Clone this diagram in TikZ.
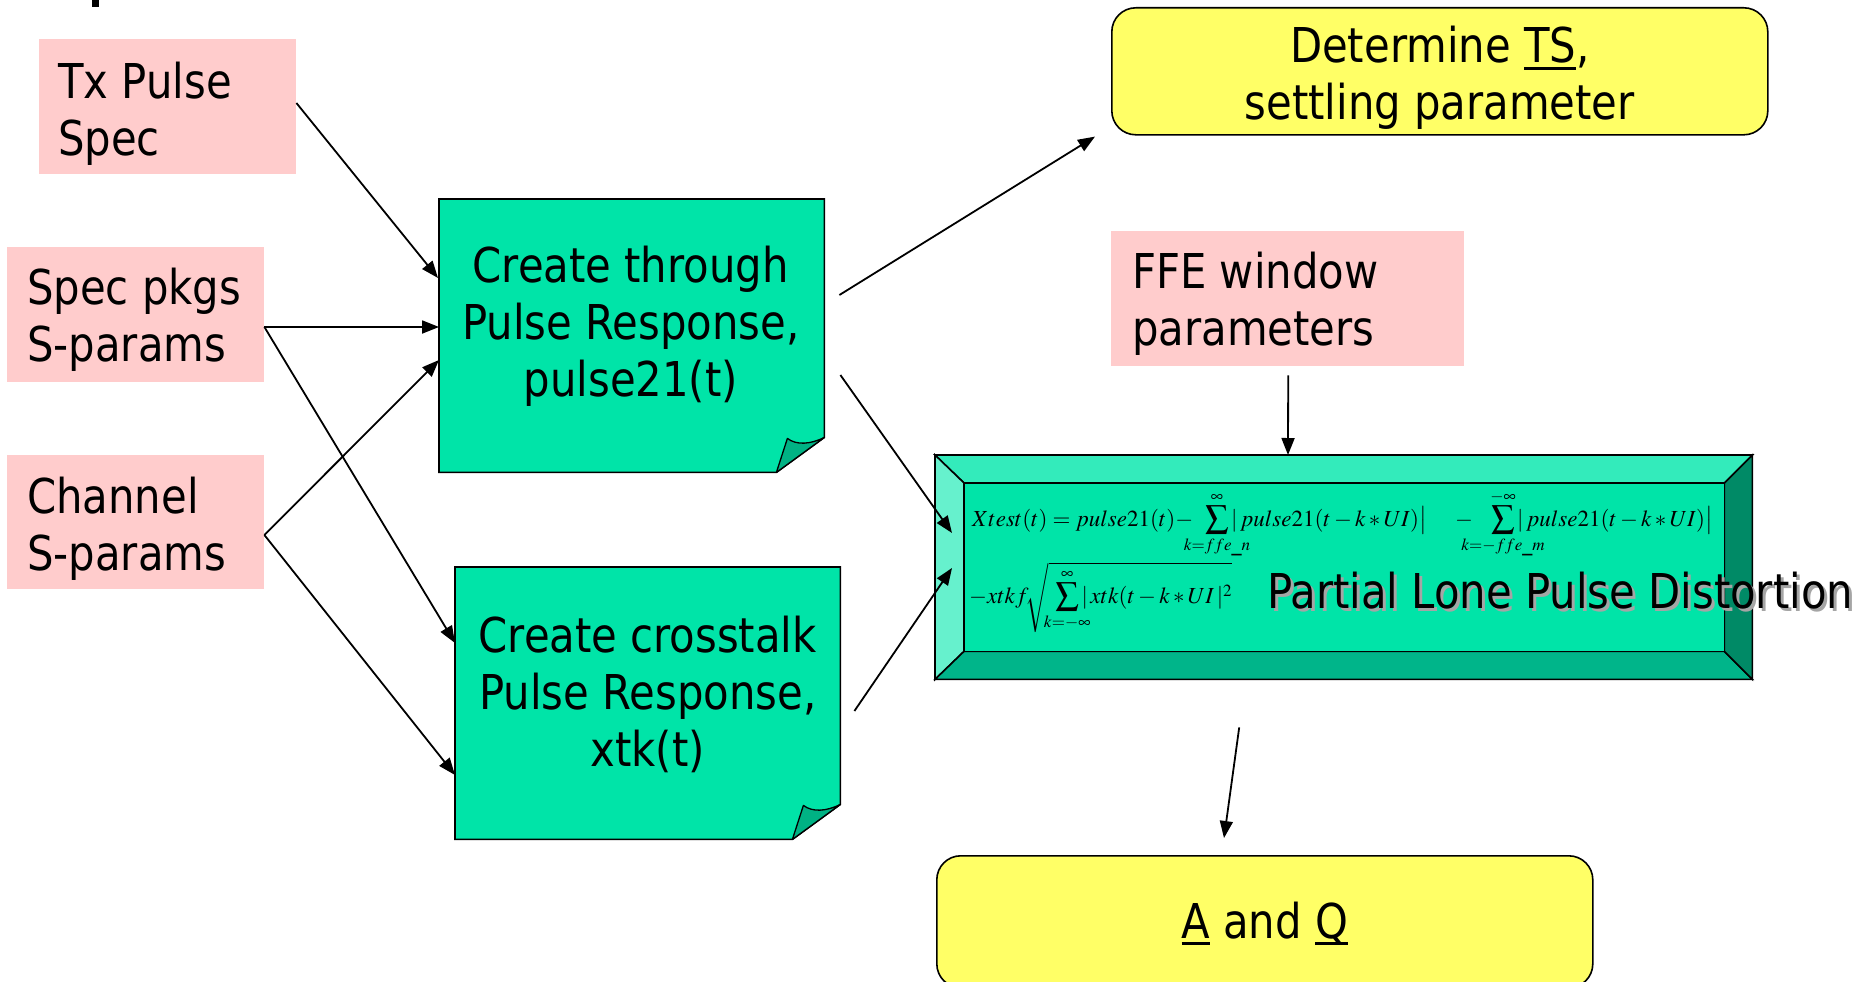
\documentclass[tikz,border=0pt]{standalone}
\usepackage{mathptmx}
\usepackage[no-math]{fontspec}
\setmainfont{DejaVu Sans}[FakeStretch=0.87]
\usetikzlibrary{arrows.meta,calc}

\definecolor{pinkfill}{RGB}{255,204,204}
\definecolor{yellowfill}{RGB}{255,255,102}
\definecolor{notegreen}{RGB}{0,228,168}
\definecolor{foldgreen}{RGB}{0,178,132}
\definecolor{bevtop}{RGB}{51,235,187}
\definecolor{bevleft}{RGB}{102,241,205}
\definecolor{bevbottom}{RGB}{0,181,138}
\definecolor{bevright}{RGB}{0,138,102}
\definecolor{shadowgray}{RGB}{165,165,165}

% stacked lines, left aligned / centred; the baseline is that of the first line
\newcommand\stackleft[1]{\vtop{\halign{##\hfil\cr#1\crcr}}}
\newcommand\stackmid[1]{\vtop{\halign{\hfil##\hfil\cr#1\crcr}}}
% heavy underline
\newcommand\undl[1]{\setbox0\hbox{#1}\rlap{\rule[-7pt]{\wd0}{2.6pt}}\box0\relax}
% zero-width limits, so a sum is only as wide as its sign
\newcommand\zw[1]{\makebox[0pt]{$\scriptstyle#1$}}

% sticky note with a turned-up bottom right corner, drawn on a frame node
\newcommand\notebox[1]{%
  \draw[note] (#1.north west) -- (#1.north east) -- ($(#1.south east)+(0,-35)$)
    -- ($(#1.south east)+(-48,0)$) -- (#1.south west) -- cycle;
  \draw[flap] ($(#1.south east)+(-48,0)$) -- ($(#1.south east)+(-37,-34)$)
    .. controls ($(#1.south east)+(-28,-27)$) and ($(#1.south east)+(-14,-28)$)
    .. ($(#1.south east)+(0,-35)$) -- cycle;}

\begin{document}
\begin{tikzpicture}[x=1pt,y=-1pt,
  lbl/.style={inner sep=0pt, font=\fontsize{48pt}{57pt}\selectfont},
  pinkbox/.style={fill=pinkfill, draw=none, inner sep=0pt, anchor=north west},
  yellowbox/.style={fill=yellowfill, draw=black, line width=1.6pt,
    rounded corners=24pt, inner sep=0pt, anchor=north west},
  frame/.style={draw=none, inner sep=0pt, anchor=north west},
  note/.style={fill=notegreen, draw=black, line width=1.6pt, line join=miter},
  flap/.style={fill=foldgreen, draw=black, line width=1.3pt, line join=round},
  bev/.style={draw=black, line width=1.6pt, line join=miter},
  conn/.style={line width=1.8pt, -{Triangle[length=17pt,width=13pt]}},
  formula/.style={inner sep=0pt, anchor=base west, font=\fontsize{23pt}{27pt}\selectfont}
]
\useasboundingbox (0,0) rectangle (1865,982);
\fill (92,0) rectangle (99,7);

% ---- inputs
\node[pinkbox, minimum width=257pt, minimum height=135pt] (tx) at (39,39) {};
\node[lbl, anchor=base west] (tx-text) at ($(tx.north west)+(19,59)$) {\stackleft{Tx Pulse\cr Spec}};

\node[pinkbox, minimum width=257pt, minimum height=135pt] (pkg) at (7,247) {};
\node[lbl, anchor=base west] (pkg-text) at ($(pkg.north west)+(20,57)$) {\stackleft{Spec pkgs\cr S-params}};

\node[pinkbox, minimum width=257pt, minimum height=134pt] (chan) at (7,455) {};
\node[lbl, anchor=base west] (chan-text) at ($(chan.north west)+(20,58)$) {\stackleft{Channel\cr S-params}};

\node[pinkbox, minimum width=353pt, minimum height=135pt] (ffe) at (1111,231) {};
\node[lbl, anchor=base west] (ffe-text) at ($(ffe.north west)+(21,57)$) {\stackleft{FFE window\cr parameters}};

% ---- pulse responses
\node[frame, minimum width=385pt, minimum height=273pt] (through) at (439,199) {};
\notebox{through}
\node[lbl, anchor=base] (through-text) at ($(through.north)+(-1,83)$)
  {\stackmid{Create through\cr Pulse Response,\cr pulse21(t)}};

\node[frame, minimum width=385pt, minimum height=272pt] (xtk) at (455,567) {};
\notebox{xtk}
\node[lbl, anchor=base] (xtk-text) at ($(xtk.north)+(0,85)$)
  {\stackmid{Create crosstalk\cr Pulse Response,\cr xtk(t)}};

% ---- results
\node[yellowbox, minimum width=656pt, minimum height=127pt] (settle) at (1111,7) {};
\node[lbl, anchor=base] (settle-text) at ($(settle.north)+(0,56)$)
  {\stackmid{Determine \undl{TS},\cr settling parameter}};

\node[yellowbox, minimum width=656pt, minimum height=132pt] (aq) at (936,855) {};
\node[lbl, anchor=base] (aq-text) at ($(aq.north)+(0,83)$) {\undl{A} and \undl{Q}};

% ---- bevelled distortion panel
\node[frame, minimum width=817pt, minimum height=224pt] (bevel) at (935,455) {};
\coordinate (f-nw) at ($(bevel.north west)+(29,28)$);
\coordinate (f-ne) at ($(bevel.north east)+(-28,28)$);
\coordinate (f-se) at ($(bevel.south east)+(-28,-28)$);
\coordinate (f-sw) at ($(bevel.south west)+(29,-28)$);
\draw[bev, fill=bevtop] (bevel.north west) -- (bevel.north east) -- (f-ne) -- (f-nw) -- cycle;
\draw[bev, fill=bevleft] (bevel.north west) -- (f-nw) -- (f-sw) -- (bevel.south west) -- cycle;
\draw[bev, fill=bevbottom] (bevel.south west) -- (f-sw) -- (f-se) -- (bevel.south east) -- cycle;
\draw[bev, fill=bevright] (bevel.north east) -- (bevel.south east) -- (f-se) -- (f-ne) -- cycle;
\draw[bev, fill=notegreen] (f-nw) rectangle (f-se);

% first line of the formula, set piece by piece
\node[formula] (eq1a) at ($(bevel.north west)+(37,71)$) {$Xtest(t)=pulse21(t)-$};
\node[formula] (eq1b) at ($(bevel.north west)+(270,71)$)
  {$\displaystyle\sum_{\zw{k=ffe\_n}}^{\zw{\infty}}$};
\node[formula] (eq1c) at ($(bevel.north west)+(296,71)$) {$|\,pulse21(t-k*UI)\big|$};
\node[formula] (eq1d) at ($(bevel.north west)+(520,71)$) {$-$};
\node[formula] (eq1e) at ($(bevel.north west)+(556,71)$)
  {$\displaystyle\sum_{\zw{k=-ffe\_m}}^{\zw{-\infty}}$};
\node[formula] (eq1f) at ($(bevel.north west)+(582,71)$) {$|\,pulse21(t-k*UI)\big|$};
% second line
\node[formula] (eq2) at ($(bevel.north west)+(34,148)$)
  {$\displaystyle -xtkf\mkern-2mu\sqrt{\mkern5mu\sum_{\zw{k=-\infty}}^{\zw{\infty}}|\,xtk(t-k*UI\,|^2}$};

\node[lbl, anchor=base west, text=shadowgray] (pld-shadow) at ($(bevel.north west)+(335,156)$)
  {Partial Lone Pulse Distortion};
\node[lbl, anchor=base west] (pld) at ($(bevel.north west)+(332,153)$)
  {Partial Lone Pulse Distortion};

% ---- connectors
\coordinate (through-out1) at ($(through.north east)+(15,96)$);
\coordinate (through-out2) at ($(through.north east)+(16,176)$);
\coordinate (xtk-out) at ($(xtk.north east)+(14,144)$);
\coordinate (ffe-out) at ($(ffe.south)+(0.5,9)$);
\coordinate (bevel-out) at ($(bevel.south)+(-104.5,48)$);

\draw[conn] ($(tx.north east)+(0,64)$) -- ($(through.north west)+(-1,79)$);
\draw[conn] ($(pkg.north east)+(0,80)$) -- ($(through.north west)+(0,128)$);
\draw[conn] ($(chan.north east)+(0,80)$) -- ($(through.north west)+(0,161)$);
\draw[conn] ($(pkg.north east)+(0,80)$) -- ($(xtk.north west)+(0,76)$);
\draw[conn] ($(chan.north east)+(0,80)$) -- ($(xtk.north west)+(0,208)$);
\draw[conn] (through-out1) -- ($(settle.south west)+(-16,1)$);
\draw[conn] (through-out2) -- ($(bevel.north west)+(17,78)$);
\draw[conn] (xtk-out) -- ($(bevel.north west)+(17,113)$);
\draw[conn] (ffe-out) -- ($(bevel.north west)+(353,0)$);
\draw[conn] (bevel-out) -- ($(aq.north west)+(288,-17)$);
\end{tikzpicture}
\end{document}
